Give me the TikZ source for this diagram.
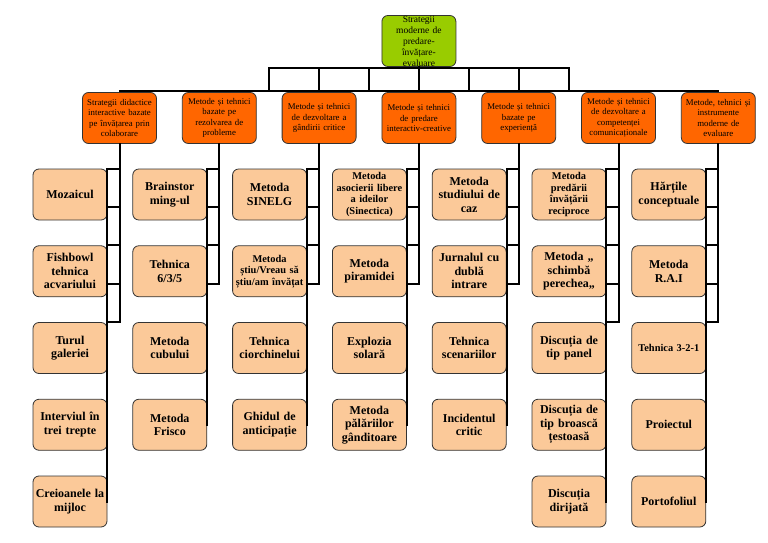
\documentclass[tikz,border=0pt]{standalone}
\usepackage{fontspec}
\setmainfont{Liberation Serif}
\usetikzlibrary{calc}
\definecolor{rootgreen}{RGB}{153,204,0}
\definecolor{catorange}{RGB}{255,102,0}
\definecolor{itempeach}{RGB}{251,201,153}
\begin{document}
\begin{tikzpicture}[x=1pt,y=-1pt,
 box/.style={draw=black!80, line width=0.8pt, rounded corners=6pt, minimum width=74pt, minimum height=51pt, inner sep=0pt, text width=73pt, align=center},
 rootbox/.style={box, fill=rootgreen, font=\fontsize{9.5}{11}\selectfont},
 catbox/.style={box, fill=catorange, font=\fontsize{8.8}{10.3}\selectfont},
 itembox/.style={box, fill=itempeach, font=\fontsize{12}{13.5}\selectfont\bfseries},
 smallitem/.style={box, fill=itempeach, font=\fontsize{10.4}{11.5}\selectfont\bfseries},
 conn/.style={line width=2pt, black, line cap=rect}]
\useasboundingbox (0,0) rectangle (768,543);
\fill[white] (0,0) rectangle (768,543);

% root
\node[rootbox] (root) at (418.9,41) {Strategii\\moderne de\\predare-\\învățare-\\evaluare};

% categories
\node[catbox] (cat1) at (119.5,118) {Strategii didactice\\interactive bazate\\pe învățarea prin\\colaborare};
\node[catbox] (cat2) at (219.3,118) {Metode și tehnici\\bazate pe\\rezolvarea de\\probleme};
\node[catbox] (cat3) at (319.1,118) {Metode și tehnici\\de dezvoltare a\\gândirii critice};
\node[catbox] (cat4) at (418.9,118) {Metode și tehnici\\de predare\\interactiv-creative};
\node[catbox] (cat5) at (518.7,118) {Metode și tehnici\\bazate pe\\experiență};
\node[catbox] (cat6) at (618.5,118) {Metode și tehnici\\de dezvoltare a\\competenței\\comunicaționale};
\node[catbox] (cat7) at (718.3,118) {Metode, tehnici și\\instrumente\\moderne de\\evaluare};

% column 1
\node[itembox] (b1-1) at (70,194.5) {Mozaicul};
\node[itembox] (b1-2) at (70,271.25) {Fishbowl\\tehnica\\acvariului};
\node[itembox] (b1-3) at (70,348) {Turul\\galeriei};
\node[itembox] (b1-4) at (70,424.75) {Interviul în\\trei trepte};
\node[itembox] (b1-5) at (70,501.5) {Creioanele la\\mijloc};
% column 2
\node[itembox] (b2-1) at (169.8,194.5) {Brainstor\\ming-ul};
\node[itembox] (b2-2) at (169.8,271.25) {Tehnica\\6/3/5};
\node[itembox] (b2-3) at (169.8,348) {Metoda\\cubului};
\node[itembox] (b2-4) at (169.8,424.75) {Metoda\\Frisco};
% column 3
\node[itembox] (b3-1) at (269.6,194.5) {Metoda\\SINELG};
\node[smallitem] (b3-2) at (269.6,271.25) {Metoda\\știu/Vreau să\\știu/am învățat};
\node[itembox] (b3-3) at (269.6,348) {Tehnica\\ciorchinelui};
\node[itembox] (b3-4) at (269.6,424.75) {Ghidul de\\anticipație};
% column 4
\node[smallitem] (b4-1) at (369.4,194.5) {Metoda\\asocierii libere\\a ideilor\\(Sinectica)};
\node[itembox] (b4-2) at (369.4,271.25) {Metoda\\piramidei};
\node[itembox] (b4-3) at (369.4,348) {Explozia\\solară};
\node[itembox] (b4-4) at (369.4,424.75) {Metoda\\pălăriilor\\gânditoare};
% column 5
\node[itembox] (b5-1) at (469.2,194.5) {Metoda\\studiului de\\caz};
\node[itembox] (b5-2) at (469.2,271.25) {Jurnalul cu\\dublă\\intrare};
\node[itembox] (b5-3) at (469.2,348) {Tehnica\\scenariilor};
\node[itembox] (b5-4) at (469.2,424.75) {Incidentul\\critic};
% column 6
\node[smallitem] (b6-1) at (569,194.5) {Metoda\\predării\\învățării\\reciproce};
\node[itembox] (b6-2) at (569,271.25) {Metoda ,,\\schimbă\\perechea,,};
\node[itembox] (b6-3) at (569,348) {Discuția de\\tip panel};
\node[itembox] (b6-4) at (569,424.75) {Discuția de\\tip broască\\țestoasă};
\node[itembox] (b6-5) at (569,501.5) {Discuția\\dirijată};
% column 7
\node[itembox] (b7-1) at (668.8,194.5) {Hărțile\\conceptuale};
\node[itembox] (b7-2) at (668.8,271.25) {Metoda\\R.A.I};
\node[smallitem] (b7-3) at (668.8,348) {Tehnica 3-2-1};
\node[itembox] (b7-4) at (668.8,424.75) {Proiectul};
\node[itembox] (b7-5) at (668.8,501.5) {Portofoliul};

% top connectors
\coordinate (topy) at ($(root.south)+(0,1.5)$);
\coordinate (bary) at ($(cat1.north)+(0,-1)$);
\coordinate (m23) at ($(cat2.north)!0.5!(cat3.north)$);
\coordinate (m34) at ($(cat3.north)!0.5!(cat4.north)$);
\coordinate (m45) at ($(cat4.north)!0.5!(cat5.north)$);
\coordinate (m56) at ($(cat5.north)!0.5!(cat6.north)$);
\draw[conn] (root.south) -- (root |- topy);
\draw[conn] (m23 |- topy) -- (m56 |- topy);
\foreach \c in {m23,cat3,m34,cat4,m45,cat5,m56}{
  \draw[conn] (\c |- topy) -- (\c |- bary);
}
\draw[conn] (cat1 |- bary) -- (cat7 |- bary);

% column connectors
\foreach \i/\n in {1/5,2/4,3/4,4/4,5/4,6/5,7/5}{
  \foreach \k in {1,...,\n}{
    \draw[conn] ($(b\i-1.north east)+(0,{38.375*(\k-1)})$) -| (cat\i.south);
  }
  \draw[conn] (b\i-1.north east) -- (b\i-\n.east);
}
\end{tikzpicture}
\end{document}
